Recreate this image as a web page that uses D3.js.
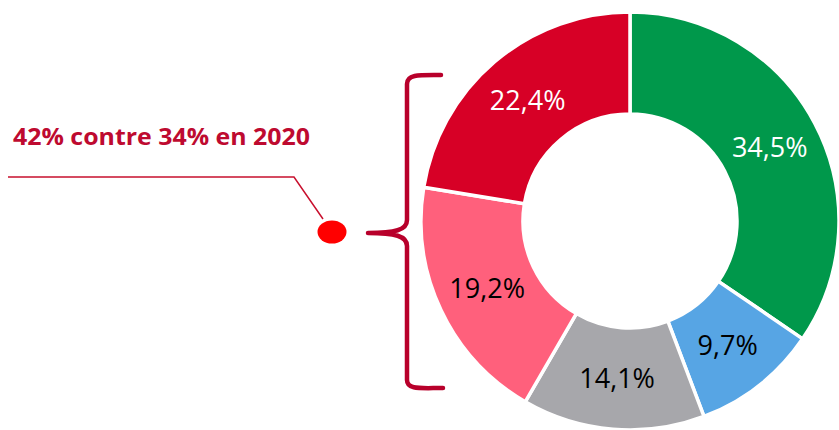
<!DOCTYPE html>
<html>
<head>
<meta charset="utf-8">
<script src="https://cdn.jsdelivr.net/npm/d3@7"></script>
<style>
  body { margin: 0; background: #fff; }
  svg { display: block; }
  .label { font-family: "Open Sans", sans-serif; font-size: 27px; }
</style>
</head>
<body>
<div class="chart"></div>
<script>
var svgWidth = 839;
var svgHeight = 430;

// Data
var categories = ["A", "B", "C", "D", "E"];
var values = [34.5, 9.7, 14.1, 19.2, 22.4];
var labels = ["34,5%", "9,7%", "14,1%", "19,2%", "22,4%"];
var colors = ["#00984b", "#57a5e4", "#a7a7ab", "#ff607c", "#d70026"];
var labelColors = ["#fff", "#000", "#000", "#000", "#fff"];
var note = "42% contre 34% en 2020";

var cx = 630, cy = 221;
var outerR = 209, innerR = 107;

var svg = d3.select(".chart")
  .append("svg")
  .attr("width", svgWidth)
  .attr("height", svgHeight);

var pie = d3.pie().sort(null).value(d => d);
var arc = d3.arc().innerRadius(innerR).outerRadius(outerR);
var labelArc = d3.arc().innerRadius((innerR + outerR) / 2).outerRadius((innerR + outerR) / 2);

var donut = svg.append("g")
  .attr("transform", `translate(${cx}, ${cy})`);

var arcs = pie(values);

donut.selectAll("path")
  .data(arcs)
  .enter()
  .append("path")
  .attr("d", arc)
  .attr("fill", (d, i) => colors[i])
  .attr("stroke", "#fff")
  .attr("stroke-width", 3.5);

donut.selectAll("text")
  .data(arcs)
  .enter()
  .append("text")
  .attr("class", "label")
  .attr("transform", d => `translate(${labelArc.centroid(d)})`)
  .attr("text-anchor", "middle")
  .attr("dy", "0.36em")
  .attr("fill", (d, i) => labelColors[i])
  .text((d, i) => labels[i]);

// Curly brace around the two red slices
var brace = d3.path();
brace.moveTo(441, 75);
brace.bezierCurveTo(420, 75, 407, 74, 407, 84);
brace.lineTo(407, 220);
brace.bezierCurveTo(407, 230, 395, 233, 368, 233);
brace.bezierCurveTo(395, 233, 407, 236, 407, 246);
brace.lineTo(407, 380);
brace.bezierCurveTo(407, 390, 420, 388, 443, 388);

svg.append("path")
  .attr("d", brace.toString())
  .attr("fill", "none")
  .attr("stroke", "#b8002b")
  .attr("stroke-width", 4.5)
  .attr("stroke-linecap", "round")
  .attr("stroke-linejoin", "round");

// Annotation
svg.append("text")
  .attr("x", 13)
  .attr("y", 145)
  .attr("fill", "#be0a30")
  .attr("font-family", "'Open Sans', sans-serif")
  .attr("font-weight", "bold")
  .attr("font-size", 24)
  .attr("textLength", 297)
  .attr("lengthAdjust", "spacingAndGlyphs")
  .text(note);

svg.append("polyline")
  .attr("points", "8,177 294,177 323,219")
  .attr("fill", "none")
  .attr("stroke", "#c8102e")
  .attr("stroke-width", 1.5);

svg.append("ellipse")
  .attr("cx", 332)
  .attr("cy", 232)
  .attr("rx", 14.5)
  .attr("ry", 11.5)
  .attr("fill", "#ff0000");
</script>
</body>
</html>
